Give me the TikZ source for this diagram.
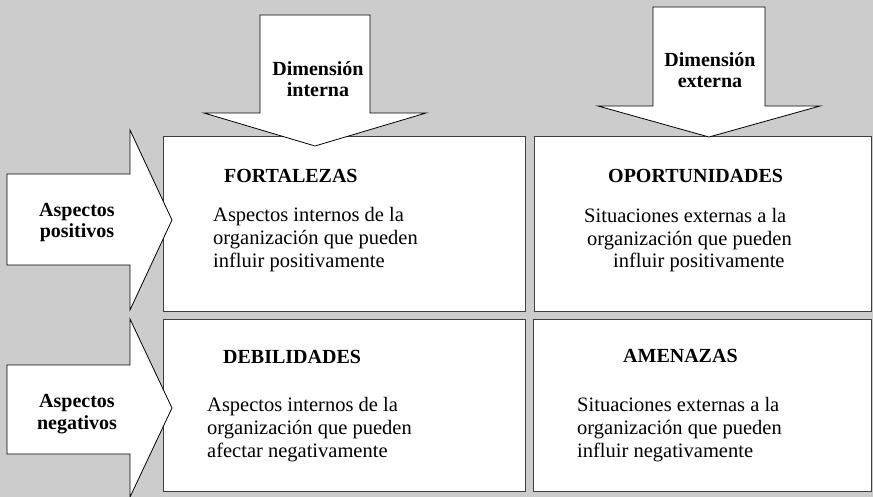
\documentclass[tikz,border=0pt]{standalone}
\usepackage{fontspec}
\setmainfont{Liberation Serif}
\begin{document}
\begin{tikzpicture}[x=1pt,y=-1pt,
        caja/.style={fill=white,draw=black!75,line width=1pt},
        flecha/.style={fill=white,draw=black,line width=0.8pt,line join=miter},
        rotulo/.style={font=\fontsize{20}{21.5}\selectfont\bfseries,align=center,anchor=base,inner sep=0pt},
        titulo/.style={font=\fontsize{20}{21.5}\selectfont\bfseries,anchor=base west,inner sep=0pt},
        texto/.style={font=\fontsize{20.5}{22.8}\selectfont,align=left,anchor=base west,inner sep=0pt}]
        \fill[black!20] (0,0) rectangle (873,497);
        \useasboundingbox (0,0) rectangle (873,497);

        \foreach \x/\y/\w/\h in {163/137/362/174, 534/137/337/174, 163/319/362/172, 533/319/338/172} {
            \filldraw[caja] (\x,\y) rectangle ++(\w,\h);
        }

        \filldraw[flecha] (260,15) -- (370,15) -- (370,113) -- (426,113) -- (315,146) -- (204,113) -- (260,113) -- cycle;
        \filldraw[flecha] (653,7) -- (765,7) -- (765,106) -- (820,106) -- (709,137) -- (598,106) -- (653,106) -- cycle;
        \foreach \m/\a/\s/\b/\e in {220/130/174/265/310, 408/319/365/454/497} {
            \filldraw[flecha] (7,\s) -- (130,\s) -- (130,\a) -- (172,\m) -- (130,\e) -- (130,\b) -- (7,\b) -- cycle;
        }

        \node[rotulo] (dimint) at (318,97) {Dimensión\\interna};
        \node[rotulo] (dimext) at (710,88) {Dimensión\\externa};
        \node[rotulo] (aspos) at (77,238) {Aspectos\\positivos};
        \node[rotulo] (asneg) at (77,429) {Aspectos\\negativos};

        \node[titulo] (fort) at (224,183) {FORTALEZAS};
        \node[titulo] (opor) at (608,183) {OPORTUNIDADES};
        \node[titulo] (debil) at (223,363) {DEBILIDADES};
        \node[titulo] (amen) at (623,362) {AMENAZAS};

        \node[texto] (fortx) at (213,267) {Aspectos internos de la\\organización que pueden\\influir positivamente};
        \node[texto] (oporx) at (584,268) {Situaciones externas a la\\\hspace{3pt}organización que pueden\\\hspace{29pt}influir positivamente};
        \node[texto] (debilx) at (207,457) {Aspectos internos de la\\organización que pueden\\afectar negativamente};
        \node[texto] (amenx) at (577,457) {Situaciones externas a la\\organización que pueden\\influir negativamente};
    \end{tikzpicture}
\end{document}
